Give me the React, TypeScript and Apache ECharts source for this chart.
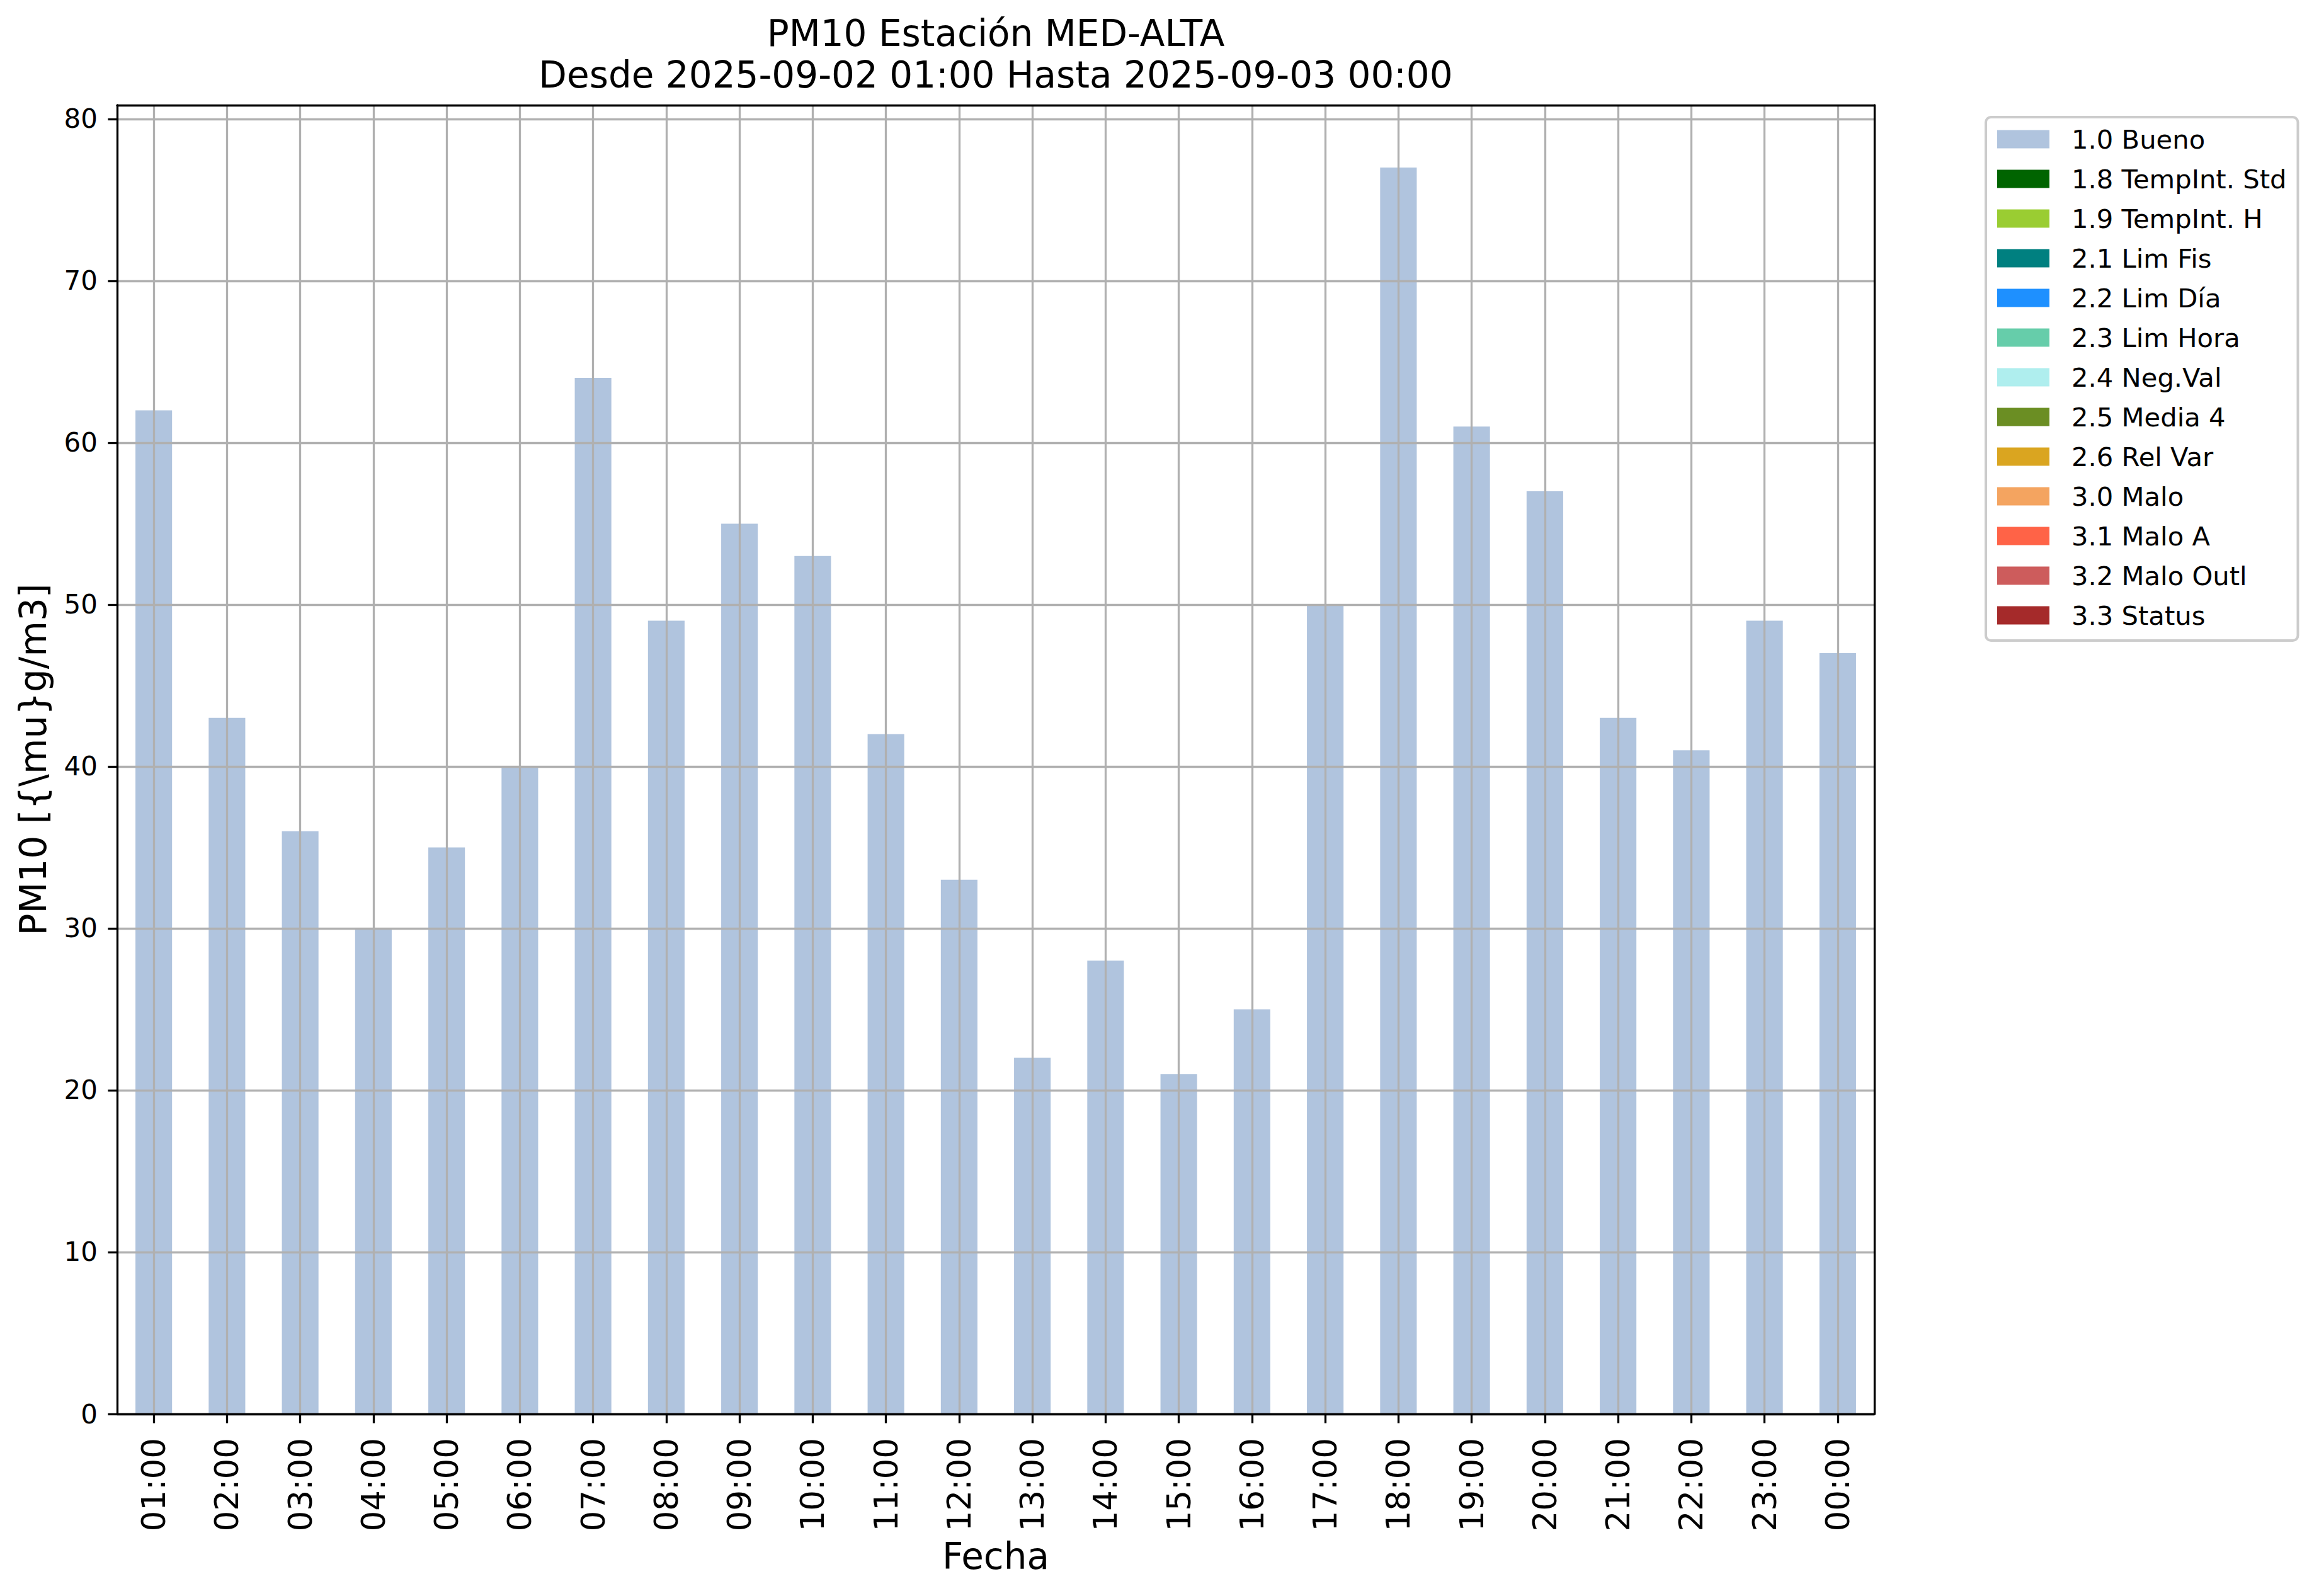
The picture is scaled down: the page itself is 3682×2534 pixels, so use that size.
import React, { useEffect, useRef } from "react";
import * as echarts from "echarts";

const categories = [
  "01:00", "02:00", "03:00", "04:00", "05:00", "06:00", "07:00", "08:00",
  "09:00", "10:00", "11:00", "12:00", "13:00", "14:00", "15:00", "16:00",
  "17:00", "18:00", "19:00", "20:00", "21:00", "22:00", "23:00", "00:00",
];

const buenoValues = [
  62, 43, 36, 30, 35, 40, 64, 49, 55, 53, 42, 33,
  22, 28, 21, 25, 50, 77, 61, 57, 43, 41, 49, 47,
];

const flagNames = [
  "1.0 Bueno", "1.8 TempInt. Std", "1.9 TempInt. H", "2.1 Lim Fis",
  "2.2 Lim Día", "2.3 Lim Hora", "2.4 Neg.Val", "2.5 Media 4",
  "2.6 Rel Var", "3.0 Malo", "3.1 Malo A", "3.2 Malo Outl", "3.3 Status",
];

const flagColors = [
  "#B0C4DE", "#006400", "#9ACD32", "#008080", "#1E90FF", "#66CDAA",
  "#AFEEEE", "#6B8E23", "#DAA520", "#F4A460", "#FF6347", "#CD5C5C", "#A52A2A",
];

// Only "1.0 Bueno" has values in this period; the other flags are empty.
const flagValues: number[][] = [buenoValues, [], [], [], [], [], [], [], [], [], [], [], []];

const yTicks = [0, 10, 20, 30, 40, 50, 60, 70, 80];
const yMax = 80.85;

const titleLine1 = "PM10 Estación MED-ALTA";
const titleLine2 = "Desde 2025-09-02 01:00 Hasta 2025-09-03 00:00";
const xName = "Fecha";
const yName = "PM10 [{\\mu}g/m3]";

const FONT = "DejaVu Sans";

export default function App() {
  const ref = useRef<HTMLDivElement>(null);

  useEffect(() => {
    document.body.style.margin = "0";
    if (!ref.current) return;
    const chart = echarts.init(ref.current, undefined, { renderer: "svg" });

    const spine = { show: true, onZero: false, lineStyle: { color: "#000000", width: 3.3 } };
    const gridLine = { color: "#b0b0b0", width: 3.3, type: "solid" as const };

    const series: any[] = flagNames.map((name, i) => ({
      type: "bar",
      name,
      stack: "flags",
      barWidth: "50%",
      z: 2,
      itemStyle: { color: flagColors[i] },
      data: flagValues[i],
      silent: true,
    }));

    series[0].markLine = {
      silent: true,
      symbol: ["none", "none"],
      z: 5,
      label: { show: false },
      emphasis: { disabled: true },
      lineStyle: gridLine,
      data: [
        ...categories.map((c) => ({ xAxis: c })),
        ...yTicks.map((v) => ({ yAxis: v })),
      ],
    };

    chart.setOption({
      animation: false,
      backgroundColor: "#ffffff",
      textStyle: { fontFamily: FONT },
      grid: { left: 186, right: 706, top: 167, bottom: 289, containLabel: false },
      graphic: [
        {
          type: "text",
          x: 1581,
          y: 53,
          style: {
            text: titleLine1,
            font: `58px "${FONT}"`,
            fill: "#000000",
            align: "center",
            verticalAlign: "middle",
          },
        },
        {
          type: "text",
          x: 1581,
          y: 118.5,
          style: {
            text: titleLine2,
            font: `58px "${FONT}"`,
            fill: "#000000",
            align: "center",
            verticalAlign: "middle",
          },
        },
      ],
      legend: {
        show: true,
        orient: "vertical",
        left: 3153,
        top: 186,
        padding: [14, 18, 19, 18],
        itemGap: 21,
        itemWidth: 83,
        itemHeight: 29,
        icon: "rect",
        selectedMode: false,
        backgroundColor: "rgba(255,255,255,0.8)",
        borderColor: "#cccccc",
        borderWidth: 4,
        borderRadius: 8,
        textStyle: {
          fontFamily: FONT,
          fontSize: 41.7,
          color: "#000000",
          padding: [0, 0, 0, 30],
        },
        data: flagNames,
      },
      xAxis: [
        {
          type: "category",
          data: categories,
          position: "bottom",
          boundaryGap: true,
          z: 10,
          axisLine: spine,
          axisTick: {
            show: true,
            alignWithLabel: true,
            length: 14.6,
            lineStyle: { color: "#000000", width: 3.3 },
          },
          axisLabel: {
            show: true,
            interval: 0,
            rotate: 90,
            margin: 38,
            fontFamily: FONT,
            fontSize: 51.5,
            color: "#000000",
          },
          splitLine: { show: false },
          name: xName,
          nameLocation: "middle",
          nameGap: 197,
          nameTextStyle: { fontFamily: FONT, fontSize: 58, color: "#000000" },
        },
        {
          type: "category",
          data: categories,
          position: "top",
          boundaryGap: true,
          z: 10,
          axisLine: spine,
          axisTick: { show: false },
          axisLabel: { show: false },
          splitLine: { show: false },
        },
      ],
      yAxis: [
        {
          type: "value",
          position: "left",
          min: 0,
          max: yMax,
          interval: 10,
          z: 10,
          axisLine: spine,
          axisTick: {
            show: true,
            length: 14.6,
            customValues: yTicks,
            lineStyle: { color: "#000000", width: 3.3 },
          },
          axisLabel: {
            show: true,
            margin: 31,
            customValues: yTicks,
            fontFamily: FONT,
            fontSize: 42,
            color: "#000000",
          },
          splitLine: { show: false },
          name: yName,
          nameLocation: "middle",
          nameRotate: 90,
          nameGap: 104,
          nameTextStyle: { fontFamily: FONT, fontSize: 58, color: "#000000" },
        },
        {
          type: "value",
          position: "right",
          min: 0,
          max: yMax,
          interval: 10,
          z: 10,
          axisLine: spine,
          axisTick: { show: false },
          axisLabel: { show: false },
          splitLine: { show: false },
        },
      ],
      series,
    });

    return () => chart.dispose();
  }, []);

  return <div ref={ref} style={{ width: 3682, height: 2534 }} />;
}
